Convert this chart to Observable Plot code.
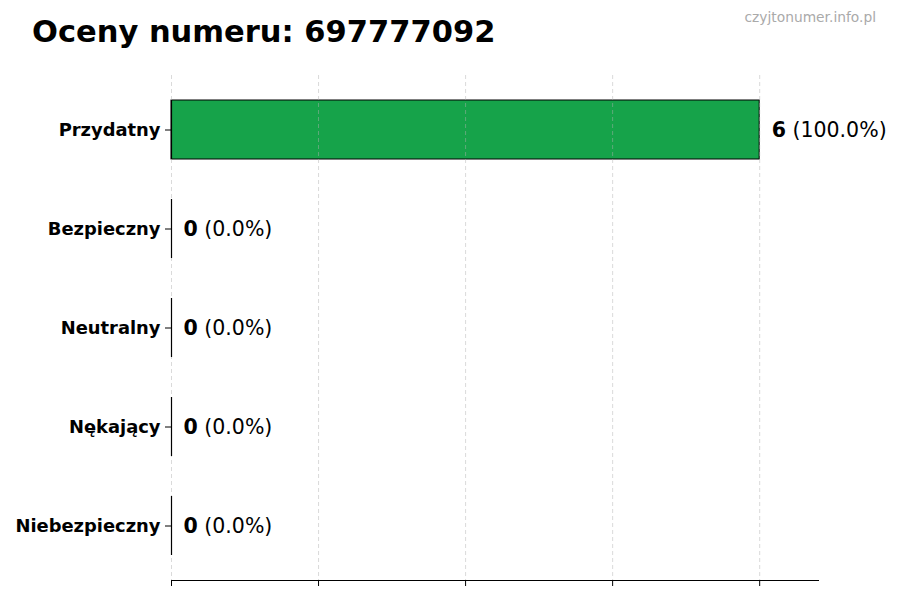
<!DOCTYPE html>
<html>
<head>
<meta charset="utf-8">
<script src="https://cdn.jsdelivr.net/npm/d3@7"></script>
<script src="https://cdn.jsdelivr.net/npm/@observablehq/plot@0.6"></script>
<style>
  html, body { margin: 0; padding: 0; background: #fff; }
  body { width: 900px; height: 600px; position: relative; overflow: hidden; font-family: "DejaVu Sans", sans-serif; }
  #head { position: relative; height: 60px; }
  #title { position: absolute; left: 32px; top: 14px; font-size: 30.5px; font-weight: bold; color: #000; white-space: nowrap; }
  #mark { position: absolute; right: 24px; top: 9px; font-size: 13.8px; color: #aaaaaa; white-space: nowrap; }
  svg { display: block; }
</style>
</head>
<body>
<div id="head">
  <div id="title">Oceny numeru: 697777092</div>
  <div id="mark">czyjtonumer.info.pl</div>
</div>
<div id="chart"></div>
<script>
const categories = ["Przydatny", "Bezpieczny", "Neutralny", "Nękający", "Niebezpieczny"];
const counts = [6, 0, 0, 0, 0];
const colors = ["#16a34a", "#16a34a", "#16a34a", "#16a34a", "#16a34a"];
const xTicks = [0, 1.5, 3, 4.5, 6];
const xMax = 6.6;

const total = d3.sum(counts);
const data = categories.map((c, i) => ({
  cat: c,
  n: counts[i],
  zero: 0,
  color: colors[i],
  pct: total ? (counts[i] / total * 100).toFixed(1) + "%" : "0.0%"
}));

const plot = Plot.plot({
  width: 900,
  height: 540,
  marginLeft: 171,
  marginRight: 82,
  marginTop: 15,
  marginBottom: 20,
  style: { fontFamily: "DejaVu Sans", background: "#fff" },
  x: { domain: [0, xMax], ticks: xTicks, tickFormat: () => "", tickSize: 6, label: null },
  y: { domain: categories, paddingInner: 0.4, paddingOuter: 0.23, label: null, tickSize: 6 },
  marks: [
    Plot.barX(data, { x: "n", y: "cat", fill: "color", stroke: "#000", strokeWidth: 1 }),
    Plot.ruleX(xTicks, { stroke: "#b0b0b0", strokeDasharray: "4,3", strokeWidth: 0.8, strokeOpacity: 0.6 }),
    Plot.tickX(data, { x: "zero", y: "cat", stroke: "#000", strokeWidth: 1.2, strokeOpacity: 1 }),
    Plot.frame({ anchor: "bottom", stroke: "#000", strokeWidth: 1 }),
    Plot.axisX({ ticks: xTicks, tickFormat: () => "", tickSize: 6, stroke: "#000", strokeWidth: 1, strokeOpacity: 1 }),
    Plot.axisY({ tickSize: 6, tickPadding: 5, fontSize: 17.9, fontWeight: "bold", fill: "#000", stroke: "#000", strokeOpacity: 1 }),
    Plot.text(data, {
      x: "n", y: "cat", dx: 12, textAnchor: "start", fontSize: 20.5, fill: "#000",
      text: d => d.n + " (" + d.pct + ")"
    })
  ]
});

// bold count part of the value labels
d3.select(plot).selectAll("g[aria-label='text'] text").each(function() {
  const t = this.textContent;
  const i = t.indexOf(" ");
  const sel = d3.select(this);
  sel.text(null);
  sel.append("tspan").attr("font-weight", "bold").text(t.slice(0, i));
  sel.append("tspan").text(t.slice(i));
});
document.getElementById("chart").appendChild(plot);
</script>
</body>
</html>
